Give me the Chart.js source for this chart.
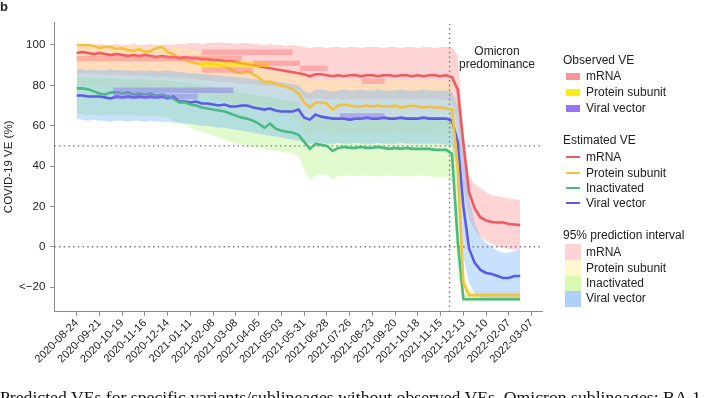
<!DOCTYPE html>
<html>
<head>
<meta charset="utf-8">
<script src="https://cdn.jsdelivr.net/npm/chart.js@4.4.1/dist/chart.umd.min.js"></script>
<style>
  html, body { margin: 0; padding: 0; background: #fff; overflow: hidden; }
  #wrap { position: relative; width: 707px; height: 398px; overflow: hidden; font-family: 'Liberation Sans', Arial, sans-serif; color: #222; }
  #myChart { position: absolute; left: 0; top: 0; }
  .txt { position: absolute; white-space: nowrap; font-size: 12px; line-height: 14px; }
  .sw { position: absolute; }
</style>
</head>
<body>
<div id="wrap">
  <canvas id="myChart" width="707" height="398"></canvas>

  <div class="txt" style="left:0;top:0;font-weight:bold;font-size:13px;">b</div>
  <div class="txt" style="left:457px;top:45px;width:80px;text-align:center;line-height:13px;">Omicron<br>predominance</div>

  <!-- legend -->
  <div class="txt" style="left:563px;top:53px;">Observed VE</div>
  <div class="sw" style="left:566px;top:73px;width:14px;height:7px;background:rgb(246,150,150);"></div>
  <div class="txt" style="left:586px;top:69px;">mRNA</div>
  <div class="sw" style="left:566px;top:89px;width:14px;height:7px;background:rgb(250,236,20);"></div>
  <div class="txt" style="left:586px;top:85px;">Protein subunit</div>
  <div class="sw" style="left:566px;top:105px;width:14px;height:7px;background:rgb(150,115,240);"></div>
  <div class="txt" style="left:586px;top:101px;">Viral vector</div>

  <div class="txt" style="left:563px;top:133px;">Estimated VE</div>
  <div class="sw" style="left:566px;top:156px;width:14px;height:2px;background:rgb(240,90,95);"></div>
  <div class="txt" style="left:586px;top:150px;">mRNA</div>
  <div class="sw" style="left:566px;top:172px;width:14px;height:2px;background:rgb(245,192,60);"></div>
  <div class="txt" style="left:586px;top:166px;">Protein subunit</div>
  <div class="sw" style="left:566px;top:187px;width:14px;height:2px;background:rgb(75,185,130);"></div>
  <div class="txt" style="left:586px;top:181px;">Inactivated</div>
  <div class="sw" style="left:566px;top:202px;width:14px;height:2px;background:rgb(90,90,235);"></div>
  <div class="txt" style="left:586px;top:196px;">Viral vector</div>

  <div class="txt" style="left:563px;top:228px;">95% prediction interval</div>
  <div class="sw" style="left:565px;top:244px;width:16px;height:16px;background:rgb(255,210,214);"></div>
  <div class="txt" style="left:586px;top:245px;">mRNA</div>
  <div class="sw" style="left:565px;top:260px;width:16px;height:16px;background:rgb(255,248,205);"></div>
  <div class="txt" style="left:586px;top:261px;">Protein subunit</div>
  <div class="sw" style="left:565px;top:276px;width:16px;height:15px;background:rgb(218,250,180);"></div>
  <div class="txt" style="left:586px;top:276px;">Inactivated</div>
  <div class="sw" style="left:565px;top:291px;width:16px;height:16px;background:rgb(175,208,250);"></div>
  <div class="txt" style="left:586px;top:291px;">Viral vector</div>

  <div class="txt" style="left:0;top:387px;font-family:'Liberation Serif', serif;font-size:17.7px;line-height:20px;color:#111;">Predicted VEs for specific variants/sublineages without observed VEs. Omicron sublineages: BA.1</div>
</div>

<script>
// weekly estimates, first week starts on this date
var weekStart = '2020-08-24';
var omicronDate = '2021-11-26';

var tickLabels = ['2020-08-24', '2020-09-21', '2020-10-19', '2020-11-16', '2020-12-14',
    '2021-01-11', '2021-02-08', '2021-03-08', '2021-04-05', '2021-05-03', '2021-05-31',
    '2021-06-28', '2021-07-26', '2021-08-23', '2021-09-20', '2021-10-18', '2021-11-15',
    '2021-12-13', '2022-01-10', '2022-02-07', '2022-03-07'];
var yTicks = [-20, 0, 20, 40, 60, 80, 100];

// Estimated VE (%)
var mrnaVE = [96, 96.5, 96, 95.5, 96, 95.5, 95, 95.5, 95, 94.5,
    95, 94.5, 95, 94.5, 94, 94.5, 94, 94, 93.5, 94,
    93.5, 93.5, 93, 93, 92.5, 92.5, 92, 92, 91.5, 91,
    90.5, 90, 89.5, 89, 88.5, 88, 87.5, 87, 86.5, 86,
    85.5, 84.5, 85.5, 85.5, 85, 84.5, 85, 84.5, 85, 85,
    84.5, 85, 85, 84.5, 85, 85, 84.5, 85, 85, 84.5,
    85, 84.5, 85, 85, 84.5, 85, 84, 78, 51, 27,
    19, 14.5, 13, 12.3, 12, 12, 11.3, 11, 10.7];
var proteinVE = [100, 100, 100, 99.5, 98.5, 99, 99, 98, 98.5, 97.5,
    97, 98, 96.5, 97, 98.5, 99, 96.5, 95.5, 93.5, 92.5,
    91.5, 91, 90.5, 91, 90.5, 90, 89.5, 88, 86.5, 86,
    87, 85.5, 84, 81.5, 82, 80.5, 80, 79, 78, 76,
    71.5, 69, 71.5, 71.5, 71, 68, 70, 70.5, 70, 69.5,
    69.5, 70, 69.5, 70, 69.5, 69.5, 70, 69, 69.5, 70,
    69.5, 69, 69.5, 69, 69, 68.5, 68, 40, -18, -24,
    -24, -24, -24, -24, -24, -24, -24, -24, -24];
var inactivatedVE = [78.5, 78.5, 78, 77, 76, 75.5, 76.5, 76.5, 76, 76.5,
    75.5, 76, 75.5, 76, 75, 75.5, 74.5, 73.5, 71.5, 71.5,
    70.5, 70, 69, 68.5, 68, 67.5, 67, 66, 65, 64,
    63.5, 62.5, 61, 59, 61, 58.5, 57.5, 57, 56.5, 55.5,
    52, 48.5, 51, 50.5, 50, 47.5, 49, 49.5, 49, 49,
    49.5, 49, 49, 49.5, 49, 48.5, 49, 48.5, 49, 48.5,
    48.5, 48.5, 48.5, 48, 48, 48, 46, 3, -26, -26,
    -26, -26, -26, -26, -26, -26, -26, -26, -26];
var viralVE = [75, 75, 74.5, 74.5, 74.5, 74, 73.5, 74.5, 74, 74.5,
    74, 74.5, 74, 74.5, 74, 74.5, 73.5, 74.5, 72, 72,
    71.5, 72, 71, 71, 70.5, 70, 70.5, 69.5, 69.5, 70,
    70, 69, 68.5, 68, 68.5, 67.5, 67, 67, 67, 68,
    64, 63, 65.5, 64.5, 64, 63.5, 63.5, 63.5, 63, 63.5,
    63.5, 64, 63.5, 63.5, 64, 63.5, 63.5, 64, 63.5, 63.5,
    63.5, 64, 63.5, 63.5, 63.5, 63.5, 62.5, 52, 20, -1,
    -8, -11.5, -13, -13.5, -14.5, -15.5, -15.5, -14.5, -14.5];

// 95% prediction intervals (upper / lower)
var mrnaHi = [100, 100.5, 100, 100, 100.5, 100, 100, 100.5, 100, 100,
    100.5, 100, 100, 100.5, 100, 100, 100.5, 100, 100.5, 100.5,
    101, 101, 100.5, 101, 101, 101.5, 101, 101, 100.5, 101,
    101, 100.5, 100.5, 100, 100.5, 100, 100, 99.5, 100, 99.5,
    99, 98.5, 99, 99, 98.5, 99, 99, 98.5, 99, 99,
    98.5, 99, 99, 99, 98.5, 99, 99, 98.5, 99, 99,
    98.5, 99, 99, 98.5, 99, 99, 98.5, 95, 58, 35,
    31, 29, 27, 25.5, 25, 24.5, 24, 23.5, 23];
var mrnaLo = [86, 86, 85.5, 86, 85.5, 85.5, 85, 85.5, 85, 85,
    84.5, 85, 84.5, 84.5, 84, 84.5, 84, 83.5, 84, 83.5,
    83, 83, 82.5, 82.5, 82, 82, 81.5, 81.5, 81, 81,
    80.5, 80.5, 80, 80, 79.5, 79.5, 79, 79, 78.5, 78,
    74, 73, 73.5, 73.5, 73, 73, 73.5, 73, 73, 73.5,
    73, 73, 73.5, 73, 73, 73.5, 73, 73, 73.5, 73,
    73, 73.5, 73, 73, 73, 73, 72, 62, 30, 14,
    8, 5, 3, 1.5, 0, -0.5, -1, -1.5, -1.5];
var proteinHi = [100, 100, 100, 100, 99.5, 100, 99.5, 99.5, 100, 99.5,
    99.5, 99.5, 99, 99.5, 99, 99, 99, 99.5, 99, 98.5,
    98, 97.5, 97, 96, 95.5, 95, 94, 93.5, 93, 92,
    91.5, 91, 90, 89.5, 89, 88.5, 88, 87, 86.5, 86,
    84, 82.5, 83, 83, 82.5, 82.5, 83, 82.5, 82.5, 83,
    82.5, 82.5, 82.5, 83, 82.5, 82.5, 82.5, 83, 82.5, 82.5,
    82.5, 83, 82.5, 82.5, 82, 82, 81.5, 65, -12, -21,
    -22, -22, -22, -22, -22, -22, -22, -22, -22];
var proteinLo = [80, 80, 79.5, 79.5, 79.5, 79, 79, 79, 78.5, 78.5,
    78.5, 78, 78, 78, 77.5, 77.5, 77.5, 77, 77, 76.5,
    76, 75.5, 75, 74, 73.5, 73, 72, 71.5, 71, 70,
    69.5, 69, 68, 67.5, 67, 66, 65.5, 65, 64, 63,
    57, 55, 57, 57, 56.5, 55, 56, 56.5, 56, 56,
    56, 56.5, 56, 56, 56, 56, 56.5, 56, 56, 56,
    56, 56, 56, 55.5, 55.5, 55.5, 55, 20, -26, -26,
    -26, -26, -26, -26, -26, -26, -26, -26, -26];
var inactivatedHi = [84, 84, 84, 83.5, 83.5, 83.5, 83.5, 83.5, 83, 83,
    83, 83, 83, 82.5, 82.5, 82.5, 82, 82, 81.5, 81.5,
    81, 80.5, 80, 79.5, 79, 78.5, 78, 77.5, 77, 76.5,
    76, 75.5, 75, 74.5, 74, 73.5, 73, 72.5, 72, 71.5,
    66, 63, 65, 65, 64.5, 63, 64, 64, 64, 64,
    64, 64, 64, 64, 64, 64, 64, 64, 64, 64,
    64, 64, 63.5, 63.5, 63.5, 63.5, 62, 35, -23, -24,
    -24, -24, -24, -24, -24, -24, -24, -24, -24];
var inactivatedLo = [65.5, 65.5, 65, 65.5, 65, 65, 65.5, 65, 65, 65.5,
    65, 65, 64.5, 65, 64.5, 64.5, 64, 62.5, 61.5, 61,
    59, 58, 57, 56, 55, 54, 53, 52, 51, 50.5,
    50, 49.5, 49, 48.5, 48, 47.5, 47, 46.5, 46, 45,
    38, 33, 35.5, 36, 35.5, 33.5, 35, 35, 35.5, 35,
    35, 35.5, 35, 35, 35, 35.5, 35, 35, 35, 35,
    35.5, 35, 35, 34.5, 34.5, 34.5, 33, -15, -27, -27,
    -27, -27, -27, -27, -27, -27, -27, -27, -27];
var viralHi = [88, 88, 87.5, 88, 87.5, 87.5, 88, 87.5, 87.5, 87.5,
    87, 87.5, 87, 87.5, 87, 87, 87.5, 87, 86.5, 86.5,
    86, 86, 85.5, 85.5, 85, 85, 84.5, 84.5, 84, 84,
    83.5, 83, 83, 82.5, 82, 82, 81.5, 81, 80.5, 80,
    77, 76, 78, 78, 77.5, 77, 77.5, 78, 77.5, 77.5,
    78, 77.5, 77.5, 78, 77.5, 77.5, 77.5, 78, 77.5, 77.5,
    77.5, 78, 77.5, 77.5, 77.5, 77.5, 77, 70, 45, 25,
    12, 5, 2, 0, -2, -3, -3, -2, -1.5];
var viralLo = [63.5, 63, 62.5, 63, 62.5, 62.5, 62, 62.5, 62.5, 62,
    62.5, 62.5, 62, 62.5, 62, 62, 62, 61.5, 61.5, 61,
    61, 60.5, 60, 60, 59.5, 59, 59, 58.5, 58, 57.5,
    57, 56.5, 56, 55.5, 55, 54.5, 54, 53.5, 53, 52.5,
    51.5, 51, 51.5, 51.5, 51, 51, 51.5, 51, 51, 51.5,
    51, 51, 51, 51.5, 51, 51, 51, 51.5, 51, 51,
    51, 51, 51, 51, 51, 50.5, 50, 38, -5, -18,
    -23, -25, -26, -26, -26, -26, -26, -26, -26];

// Observed VE: [from, to, VE]
var observedMRNA = [
    ['2020-08-24', '2021-03-15', 93.3],
    ['2021-01-25', '2021-05-17', 96.4],
    ['2021-01-25', '2021-03-29', 87.6],
    ['2021-03-29', '2021-05-26', 91],
    ['2021-05-26', '2021-06-29', 88.5],
    ['2021-08-10', '2021-09-07', 82]
];
var observedProtein = [
    ['2021-01-23', '2021-04-19', 90.4]
];
var observedViral = [
    ['2020-10-08', '2021-03-05', 77.6],
    ['2020-10-08', '2021-01-20', 74.5],
    ['2021-07-14', '2021-09-07', 64.8]
];

window.addEventListener('load', function() {
    var ctx = document.getElementById('myChart').getContext('2d');

    function day(d) {
        return (Date.parse(d) - Date.parse(weekStart)) / 86400000;
    }
    function weekly(values) {
        return values.map(function(v, i) { return { x: i * 7, y: v }; });
    }

    var xMin = -27.6, xMax = 572.8, yMin = -32.2, yMax = 111.4;

    var datasets = [];

    // observed boxes (drawn on top)
    function addBoxes(list, color) {
        list.forEach(function(b) {
            datasets.push({
                data: [{ x: day(b[0]), y: b[2] }, { x: day(b[1]), y: b[2] }],
                borderColor: color, borderWidth: 5.5, borderCapStyle: 'butt',
                pointRadius: 0, fill: false, order: 1
            });
        });
    }
    addBoxes(observedMRNA, 'rgba(250,120,125,0.45)');
    addBoxes(observedProtein, 'rgba(255,228,0,0.6)');
    addBoxes(observedViral, 'rgba(140,110,240,0.45)');

    // estimated lines
    function addLine(values, color) {
        datasets.push({
            data: weekly(values), borderColor: color, borderWidth: 2.6,
            pointRadius: 0, fill: false, tension: 0, order: 2
        });
    }
    addLine(mrnaVE, 'rgb(240,90,95)');
    addLine(proteinVE, 'rgb(245,192,60)');
    addLine(inactivatedVE, 'rgb(75,185,130)');
    addLine(viralVE, 'rgb(90,90,235)');

    // dotted reference lines
    function addRef(points) {
        datasets.push({
            data: points, borderColor: '#7a7a7a', borderWidth: 1.4,
            borderDash: [1.5, 3.2], pointRadius: 0, fill: false, order: 5
        });
    }
    addRef([{ x: xMin, y: 50 }, { x: xMax, y: 50 }]);
    addRef([{ x: xMin, y: 0 }, { x: xMax, y: 0 }]);
    addRef([{ x: day(omicronDate), y: yMin }, { x: day(omicronDate), y: yMax - 1 }]);

    // prediction bands
    function addBand(hi, lo, color, order) {
        datasets.push({
            data: weekly(hi), backgroundColor: color, borderWidth: 0,
            pointRadius: 0, fill: '+1', order: order
        });
        datasets.push({
            data: weekly(lo), borderWidth: 0, pointRadius: 0, fill: false, order: order
        });
    }
    addBand(viralHi, viralLo, 'rgba(110,178,250,0.38)', 6);
    addBand(inactivatedHi, inactivatedLo, 'rgba(180,245,135,0.4)', 7);
    addBand(proteinHi, proteinLo, 'rgba(255,232,150,0.4)', 8);
    addBand(mrnaHi, mrnaLo, 'rgba(255,148,150,0.4)', 9);

    Chart.defaults.font.family = "'Liberation Sans', Arial, sans-serif";
    Chart.defaults.color = '#222';

    new Chart(ctx, {
        type: 'line',
        data: { datasets: datasets },
        options: {
            responsive: false,
            animation: false,
            layout: { padding: { top: 22, right: 165, bottom: 0, left: 0 } },
            plugins: { legend: { display: false }, tooltip: { enabled: false } },
            scales: {
                x: {
                    type: 'linear', min: xMin, max: xMax,
                    afterBuildTicks: function(s) {
                        s.ticks = tickLabels.map(function(l) { return { value: day(l) }; });
                    },
                    afterFit: function(s) { s.height = 86.3; },
                    ticks: {
                        autoSkip: false, maxRotation: 45, minRotation: 45, padding: 1,
                        font: { size: 11 },
                        callback: function(v, i) { return tickLabels[i]; }
                    },
                    grid: { drawOnChartArea: false, tickLength: 4, color: '#8a8a8a' },
                    border: { color: '#8a8a8a' }
                },
                y: {
                    min: yMin, max: yMax,
                    afterBuildTicks: function(s) {
                        s.ticks = yTicks.map(function(v) { return { value: v }; });
                    },
                    afterFit: function(s) { s.width = 54.3; },
                    ticks: {
                        padding: 5, font: { size: 11.5 },
                        callback: function(v) { return v === -20 ? '<\u221220' : v; }
                    },
                    grid: { drawOnChartArea: false, tickLength: 4, color: '#8a8a8a' },
                    border: { color: '#8a8a8a' },
                    title: {
                        display: true, text: 'COVID-19 VE (%)', font: { size: 11.5 },
                        padding: { top: 2, bottom: 0 }
                    }
                }
            }
        }
    });
});
</script>
</body>
</html>
